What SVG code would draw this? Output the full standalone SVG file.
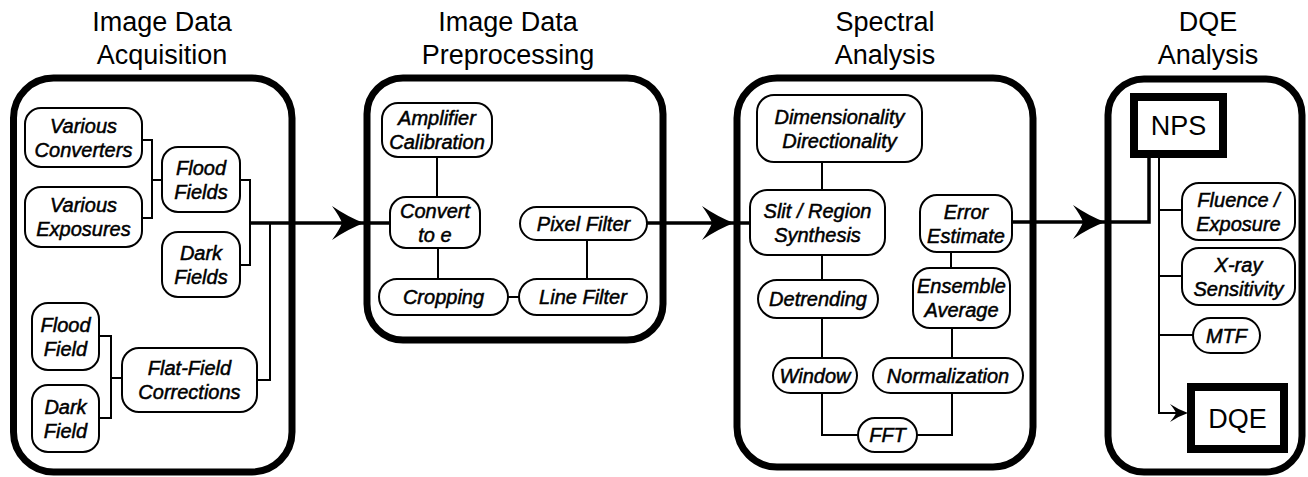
<svg xmlns="http://www.w3.org/2000/svg" xmlns:xlink="http://www.w3.org/1999/xlink" width="1308" height="477" viewBox="0 0 1308 477">
  <style>
    .title { font-family: "Liberation Sans", Arial, sans-serif; font-size: 27px; text-anchor: middle; fill: #000; }
    .panel { fill: none; stroke: #000; stroke-width: 7; }
    .node rect { fill: #fff; stroke: #000; stroke-width: 2; }
    .node text { font-family: "Liberation Sans", Arial, sans-serif; font-size: 20px; font-style: italic; text-anchor: middle; fill: #000; stroke: #000; stroke-width: 0.5; }
    .key rect { fill: #fff; stroke: #000; stroke-width: 8; }
    .key text { font-family: "Liberation Sans", Arial, sans-serif; font-size: 27px; text-anchor: middle; fill: #000; }
    .link { fill: none; stroke: #000; stroke-width: 2; }
    .flow { fill: none; stroke: #000; stroke-width: 3.5; }
    .head { fill: #000; }
  </style>
  <defs>
    <path id="bigHead" d="M0,0 Q-16,-6 -32,-17 Q-24,-6 -22,0 Q-24,6 -32,17 Q-16,6 0,0 Z"/>
    <path id="smallHead" d="M0,0 Q-9,-3 -18,-9 Q-13,-3 -12,0 Q-13,3 -18,9 Q-9,3 0,0 Z"/>
  </defs>

  <rect width="1308" height="477" fill="#fff"/>

  <!-- stage titles -->
  <g id="titles">
    <text class="title" x="162" y="31">Image Data</text>
    <text class="title" x="162" y="64">Acquisition</text>
    <text class="title" x="508" y="31">Image Data</text>
    <text class="title" x="508" y="64">Preprocessing</text>
    <text class="title" x="885" y="31">Spectral</text>
    <text class="title" x="885" y="64">Analysis</text>
    <text class="title" x="1208" y="31">DQE</text>
    <text class="title" x="1208" y="64">Analysis</text>
  </g>

  <!-- stage frames -->
  <g id="stage-acquisition"><rect class="panel" x="13.5" y="78" width="278.5" height="394" rx="40"/></g>
  <g id="stage-preprocessing"><rect class="panel" x="367" y="78" width="296" height="262" rx="36"/></g>
  <g id="stage-spectral"><rect class="panel" x="737" y="78" width="296" height="389" rx="40"/></g>
  <g id="stage-dqe"><rect class="panel" x="1108" y="79" width="194" height="393" rx="36"/></g>

  <!-- connectors -->
  <g id="connectors">
    <!-- acquisition -->
    <path class="link" d="M142,140 H152 V218 H142"/>
    <path class="link" d="M152,180 H162"/>
    <path class="link" d="M240,180 H250 V265 H240"/>
    <path class="link" d="M270,223 V380 H257"/>
    <path class="link" d="M99,336 H111 V418 H99"/>
    <path class="link" d="M111,378 H122"/>
    <!-- preprocessing -->
    <path class="link" d="M437,157 V197"/>
    <path class="link" d="M438,248 V279"/>
    <path class="link" d="M508,297 H519"/>
    <path class="link" d="M587,240 V279"/>
    <!-- spectral -->
    <path class="link" d="M822,162 V190"/>
    <path class="link" d="M822,255 V280"/>
    <path class="link" d="M822,318 V358"/>
    <path class="link" d="M822,393 V435 H858"/>
    <path class="link" d="M917,435 H952 V393"/>
    <path class="link" d="M952,358 V328"/>
    <path class="link" d="M951,268 V252"/>
    <!-- dqe -->
    <path class="link" d="M1159,158 V413 H1176"/>
    <path class="link" d="M1159,210 H1182"/>
    <path class="link" d="M1159,276 H1182"/>
    <path class="link" d="M1159,335 H1193"/>
    <use xlink:href="#smallHead" class="head" x="1188" y="413"/>
    <!-- stage-to-stage flow -->
    <path class="flow" d="M250,223 H390"/>
    <use xlink:href="#bigHead" class="head" x="364" y="223"/>
    <path class="flow" d="M647,223 H750"/>
    <use xlink:href="#bigHead" class="head" x="734" y="223"/>
    <path class="flow" d="M1012,222 H1149 V158"/>
    <use xlink:href="#bigHead" class="head" x="1105" y="222"/>
  </g>

  <!-- acquisition nodes -->
  <g id="various-converters" class="node"><rect x="25" y="108" width="117" height="59" rx="16"/><text x="83.5" y="132.5">Various</text><text x="83.5" y="156.5">Converters</text></g>
  <g id="various-exposures" class="node"><rect x="25" y="187" width="117" height="60" rx="16"/><text x="83.5" y="212">Various</text><text x="83.5" y="236">Exposures</text></g>
  <g id="flood-fields" class="node"><rect x="162" y="147" width="78" height="65" rx="16"/><text x="201" y="174.5">Flood</text><text x="201" y="198.5">Fields</text></g>
  <g id="dark-fields" class="node"><rect x="162" y="232" width="78" height="65" rx="16"/><text x="201" y="259.5">Dark</text><text x="201" y="283.5">Fields</text></g>
  <g id="flood-field" class="node"><rect x="32" y="303" width="67" height="67" rx="16"/><text x="65.5" y="331.5">Flood</text><text x="65.5" y="355.5">Field</text></g>
  <g id="dark-field" class="node"><rect x="32" y="385" width="67" height="67" rx="16"/><text x="65.5" y="413.5">Dark</text><text x="65.5" y="437.5">Field</text></g>
  <g id="flat-field-corrections" class="node"><rect x="122" y="348" width="135" height="64" rx="17"/><text x="189.5" y="375">Flat-Field</text><text x="189.5" y="399">Corrections</text></g>

  <!-- preprocessing nodes -->
  <g id="amplifier-calibration" class="node"><rect x="382" y="103" width="110" height="54" rx="16"/><text x="437" y="125">Amplifier</text><text x="437" y="149">Calibration</text></g>
  <g id="convert-to-e" class="node"><rect x="390" y="197" width="90" height="51" rx="16"/><text x="435" y="217.5">Convert</text><text x="435" y="241.5">to e</text></g>
  <g id="pixel-filter" class="node"><rect x="520" y="207" width="127" height="33" rx="16.5"/><text x="583.5" y="230.5">Pixel Filter</text></g>
  <g id="cropping" class="node"><rect x="379" y="279" width="129" height="36" rx="18"/><text x="443.5" y="304">Cropping</text></g>
  <g id="line-filter" class="node"><rect x="519" y="279" width="128" height="36" rx="18"/><text x="583" y="304">Line Filter</text></g>

  <!-- spectral nodes -->
  <g id="dimensionality" class="node"><rect x="757" y="95" width="165" height="67" rx="17"/><text x="839.5" y="123.5">Dimensionality</text><text x="839.5" y="147.5">Directionality</text></g>
  <g id="slit-region" class="node"><rect x="750" y="190" width="135" height="65" rx="17"/><text x="817.5" y="217.5">Slit / Region</text><text x="817.5" y="241.5">Synthesis</text></g>
  <g id="error-estimate" class="node"><rect x="920" y="195" width="92" height="57" rx="17"/><text x="966" y="218.5">Error</text><text x="966" y="242.5">Estimate</text></g>
  <g id="detrending" class="node"><rect x="758" y="280" width="120" height="38" rx="19"/><text x="818" y="306">Detrending</text></g>
  <g id="ensemble-average" class="node"><rect x="913" y="268" width="97" height="60" rx="17"/><text x="961.5" y="293">Ensemble</text><text x="961.5" y="317">Average</text></g>
  <g id="window" class="node"><rect x="773" y="358" width="84" height="35" rx="17.5"/><text x="815" y="382.5">Window</text></g>
  <g id="normalization" class="node"><rect x="873" y="358" width="150" height="35" rx="17.5"/><text x="948" y="382.5">Normalization</text></g>
  <g id="fft" class="node"><rect x="858" y="418" width="59" height="34" rx="17"/><text x="887.5" y="442">FFT</text></g>

  <!-- dqe nodes -->
  <g id="nps" class="key"><rect x="1134" y="97" width="89" height="57"/><text x="1178.5" y="135">NPS</text></g>
  <g id="fluence-exposure" class="node"><rect x="1182" y="183" width="113" height="57" rx="17"/><text x="1238.5" y="206.5">Fluence /</text><text x="1238.5" y="230.5">Exposure</text></g>
  <g id="xray-sensitivity" class="node"><rect x="1182" y="248" width="113" height="57" rx="17"/><text x="1238.5" y="271.5">X-ray</text><text x="1238.5" y="295.5">Sensitivity</text></g>
  <g id="mtf" class="node"><rect x="1193" y="318" width="67" height="35" rx="17.5"/><text x="1226.5" y="342.5">MTF</text></g>
  <g id="dqe" class="key"><rect x="1191" y="387" width="93" height="62"/><text x="1237.5" y="428">DQE</text></g>
</svg>
